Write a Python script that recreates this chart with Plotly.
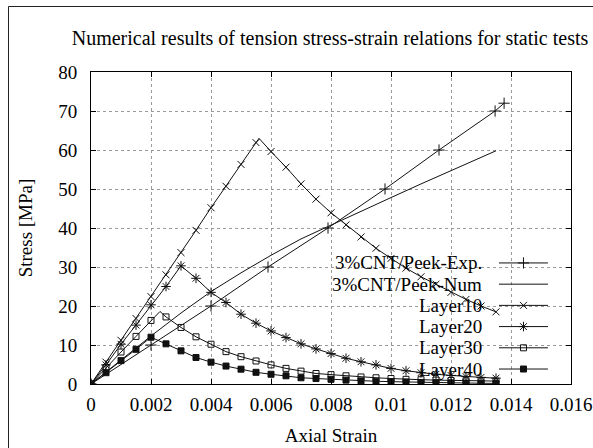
import plotly.graph_objects as go

# ---------------- data ----------------
strain_grid = [0, 0.0005, 0.001, 0.0015, 0.002, 0.0025, 0.003, 0.0035, 0.004, 0.0045,
               0.005, 0.0055, 0.006, 0.0065, 0.007, 0.0075, 0.008, 0.0085, 0.009, 0.0095,
               0.01, 0.0105, 0.011, 0.0115, 0.012, 0.0125, 0.013, 0.0135]

strain_exp = [0, 0.002, 0.004, 0.0059, 0.0079, 0.0098, 0.0116, 0.01347, 0.01377]
stress_exp = [0, 10, 20, 30, 40, 50, 60, 70, 72]

strain_num = [0, 0.001, 0.002, 0.003, 0.004, 0.005, 0.006, 0.007, 0.008, 0.009,
              0.01, 0.011, 0.012, 0.013, 0.0135]
stress_num = [0, 6.2, 12.3, 18.2, 23.7, 28.5, 33.0, 37.2, 40.8, 44.2,
              47.8, 51.3, 54.8, 58.1, 59.8]

stress_l10 = [0, 5.6, 11.2, 16.8, 22.4, 28.0, 33.7, 39.4, 45.2, 50.7, 56.3, 61.9,
              59.6, 55.6, 51.3, 47.4, 43.9, 40.8, 37.7, 34.8, 32.2, 29.7, 27.5, 25.6,
              23.5, 21.7, 20.0, 18.5]
peak_l10 = (0.0056, 63.0)

stress_l20 = [0, 4.9, 10.2, 15.1, 20.3, 25.0, 30.3, 27.1, 23.5, 20.9, 17.9, 15.6,
              13.6, 11.9, 10.3, 9.0, 7.8, 6.6, 5.7, 4.9, 4.0, 3.4, 2.9, 2.5, 2.2, 1.9,
              1.7, 1.5]

stress_l30 = [0, 4.2, 8.2, 12.2, 16.3, 17.2, 14.5, 12.1, 10.2, 8.3, 7.0, 5.9, 4.9,
              4.0, 3.3, 2.7, 2.4, 2.1, 1.8, 1.6, 1.4, 1.2, 1.1, 1.0, 0.9, 0.85, 0.8, 0.75]
peak_l30 = (0.0023, 18.6)

stress_l40 = [0, 2.9, 6.0, 8.9, 12.0, 10.3, 8.5, 6.8, 5.6, 4.6, 3.8, 3.0, 2.5, 2.1,
              1.6, 1.4, 1.2, 1.0, 0.8, 0.7, 0.6, 0.5, 0.4, 0.35, 0.3, 0.25, 0.2, 0.15]

x_tick_vals = [0, 0.002, 0.004, 0.006, 0.008, 0.01, 0.012, 0.014, 0.016]
x_tick_text = ["0", "0.002", "0.004", "0.006", "0.008", "0.01", "0.012", "0.014", "0.016"]
y_tick_vals = [0, 10, 20, 30, 40, 50, 60, 70, 80]

legend_labels = ["3%CNT/Peek-Exp.", "3%CNT/Peek-Num", "Layer10", "Layer20", "Layer30", "Layer40"]

title_text = "Numerical results of tension stress-strain relations for static tests"
x_title = "Axial Strain"
y_title = "Stress [MPa]"

# ---------------- helpers ----------------
FONT = "Liberation Serif"
LC = "#111111"
FS = 19

W, H = 593, 448
ML, MR, MT, MB = 91, 22, 72, 64
PW, PH = W - ML - MR, H - MT - MB


def with_peak(xs, ys, peak):
    pts = sorted(list(zip(xs, ys)) + [peak])
    return [p[0] for p in pts], [p[1] for p in pts]


def on_step(x):
    q = x / 0.0005
    return abs(q - round(q)) < 1e-6


series = [
    (strain_exp, stress_exp, "cross-thin", 8),
    (strain_num, stress_num, None, 0),
    (*with_peak(strain_grid, stress_l10, peak_l10), "x-thin", 7),
    (strain_grid, stress_l20, "asterisk", 8),
    (*with_peak(strain_grid, stress_l30, peak_l30), "square-open", 6),
    (strain_grid, stress_l40, "square", 6),
]

fig = go.Figure()

for i, (xs, ys, sym, size) in enumerate(series):
    fig.add_trace(go.Scatter(x=xs, y=ys, mode="lines",
                             line=dict(color=LC, width=1), showlegend=False,
                             hoverinfo="skip"))
    if sym:
        if i == 0:
            mx, my = xs, ys
        else:
            mx = [x for x in xs if on_step(x)]
            my = [y for x, y in zip(xs, ys) if on_step(x)]
        fig.add_trace(go.Scatter(x=mx, y=my, mode="markers", showlegend=False,
                                 marker=dict(symbol=sym, size=size, color=LC,
                                             line=dict(color=LC, width=1))))

# ---------------- custom gnuplot-style legend ----------------
leg_text_x = 0.819
leg_line_x0, leg_line_x1 = 0.85, 0.952
leg_mark_x = (leg_line_x0 + leg_line_x1) / 2
leg_top, leg_step = 0.388, 0.068

for i, lab in enumerate(legend_labels):
    yy = leg_top - i * leg_step
    fig.add_annotation(text=lab, xref="paper", yref="paper", x=leg_text_x, y=yy,
                       xanchor="right", yanchor="middle", showarrow=False,
                       font=dict(family=FONT, size=FS, color="#000"))
    fig.add_shape(type="line", xref="paper", yref="paper", x0=leg_line_x0, x1=leg_line_x1,
                  y0=yy, y1=yy, line=dict(color=LC, width=1))
    sym, size = series[i][2], series[i][3]
    if sym:
        fig.add_trace(go.Scatter(x=[leg_mark_x], y=[yy], xaxis="x2", yaxis="y2",
                                 mode="markers", showlegend=False, hoverinfo="skip",
                                 marker=dict(symbol=sym, size=size, color=LC,
                                             line=dict(color=LC, width=1))))

# outer frame (only its left and top edges fall inside the picture)
fig.add_shape(type="rect", xref="paper", yref="paper",
              x0=(8.5 - ML) / PW, x1=(W + 20 - ML) / PW,
              y0=-(MB + 20) / PH, y1=(PH + MT - 6.5) / PH,
              line=dict(color="#222", width=1), layer="below")

axis_common = dict(showline=True, linecolor="#000", linewidth=1, mirror="ticks",
                   ticks="inside", ticklen=5, tickcolor="#000", automargin=False,
                   showgrid=True, gridcolor="#9a9a9a", griddash="dot", gridwidth=1,
                   zeroline=False, tickfont=dict(family=FONT, size=FS, color="#000"))

fig.update_layout(
    width=W, height=H,
    margin=dict(l=ML, r=MR, t=MT, b=MB),
    paper_bgcolor="white", plot_bgcolor="white",
    title=dict(text=title_text, x=(ML + PW / 2 - 1) / W, xanchor="center",
               y=1 - 37.5 / H, yanchor="middle",
               font=dict(family=FONT, size=20, color="#000")),
    xaxis=dict(range=[0, 0.016], tickvals=x_tick_vals, ticktext=x_tick_text,
               ticklabelstandoff=3,
               title=dict(text=x_title, font=dict(family=FONT, size=FS, color="#000"),
                          standoff=14),
               **axis_common),
    yaxis=dict(range=[0, 80], tickvals=y_tick_vals, ticklabelstandoff=9,
               title=dict(text=y_title, font=dict(family=FONT, size=FS, color="#000"),
                          standoff=20),
               **axis_common),
    xaxis2=dict(overlaying="x", range=[0, 1], visible=False, fixedrange=True),
    yaxis2=dict(overlaying="y", range=[0, 1], visible=False, fixedrange=True),
    showlegend=False,
)

fig.write_html(
    "out.html",
    config={"displayModeBar": False},
    post_script="document.body.style.margin='0';document.body.style.overflow='hidden';",
)
